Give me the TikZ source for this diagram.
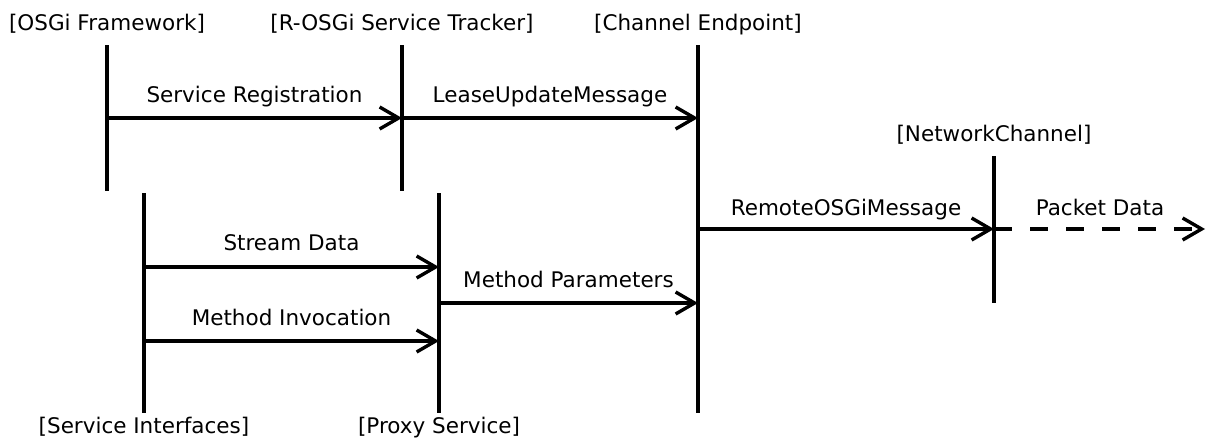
\documentclass[tikz,border=0pt]{standalone}
\usepackage{fontspec}
\setmainfont{DejaVu Sans}
\usetikzlibrary{arrows.meta}
\begin{document}
\begin{tikzpicture}[x=1pt,y=-1pt,
  lifeline/.style={line width=3.4pt},
  msg/.style={line width=3.4pt,-{Straight Barb[length=19pt,width=22pt,line width=3.4pt]}},
  dmsg/.style={msg,dash pattern=on 18pt off 18pt},
  role/.style={anchor=base,inner sep=0pt,font=\fontsize{21.5pt}{25pt}\selectfont},
  msglabel/.style={anchor=base,inner sep=0pt,font=\fontsize{21.5pt}{25pt}\selectfont}]
\useasboundingbox (0,0) rectangle (1209,437);

% lifeline ends
\coordinate (fwT) at (107,45);  \coordinate (fwB) at (107,191);
\coordinate (trT) at (402,45);  \coordinate (trB) at (402,191);
\coordinate (ceT) at (698,45);  \coordinate (ceB) at (698,413);
\coordinate (ncT) at (994,156); \coordinate (ncB) at (994,303);
\coordinate (siT) at (144,193); \coordinate (siB) at (144,413);
\coordinate (psT) at (439,193); \coordinate (psB) at (439,413);
\coordinate (out) at (1205,229);

% role names
\node[role] (fwL) at (107,30) {[OSGi Framework]};
\node[role] (trL) at (402,30) {[R-OSGi Service Tracker]};
\node[role] (ceL) at (698,30) {[Channel Endpoint]};
\node[role] (ncL) at (994,141) {[NetworkChannel]};
\node[role] (siL) at (144,433) {[Service Interfaces]};
\node[role] (psL) at (439,433) {[Proxy Service]};

% lifelines
\draw[lifeline] (fwT) -- (fwB);
\draw[lifeline] (trT) -- (trB);
\draw[lifeline] (ceT) -- (ceB);
\draw[lifeline] (ncT) -- (ncB);
\draw[lifeline] (siT) -- (siB);
\draw[lifeline] (psT) -- (psB);

% messages
\draw[msg] (fwT |- 0,118) -- (trT |- 0,118);
\node[msglabel] (m1) at (254.5,102) {Service Registration};
\draw[msg] (trT |- 0,118) -- (ceT |- 0,118);
\node[msglabel] (m2) at (550,102) {LeaseUpdateMessage};
\draw[msg] (ceT |- out) -- (ncT |- out);
\node[msglabel] (m3) at (846,215) {RemoteOSGiMessage};
\draw[dmsg] (ncT |- out) -- (out);
\node[msglabel] (m4) at (1100,215) {Packet Data};
\draw[msg] (siT |- 0,267) -- (psT |- 0,267);
\node[msglabel] (m5) at (291.5,250.5) {Stream Data};
\draw[msg] (psT |- 0,303) -- (ceT |- 0,303);
\node[msglabel] (m6) at (568.5,287) {Method Parameters};
\draw[msg] (siT |- 0,341) -- (psT |- 0,341);
\node[msglabel] (m7) at (291.5,325.5) {Method Invocation};
\end{tikzpicture}
\end{document}
